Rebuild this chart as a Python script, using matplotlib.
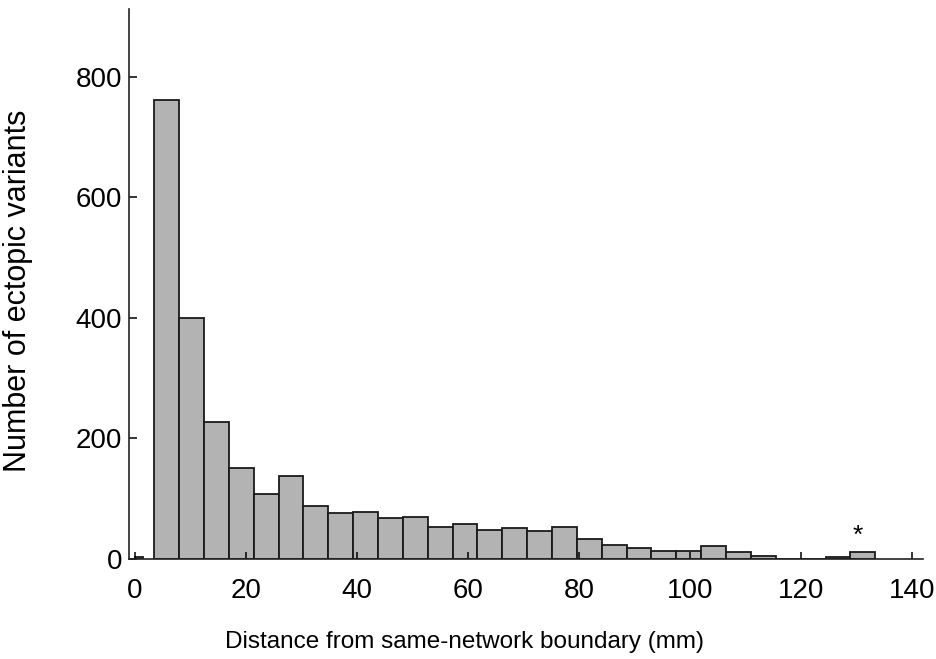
import numpy as np
import matplotlib
matplotlib.use("Agg")
import matplotlib.pyplot as plt

plt.rcParams['font.family'] = ['Liberation Sans', 'DejaVu Sans']

# histogram (distance in mm, counts per bin)
first_edge = 3.48
bin_width = 4.48
counts = [762, 399, 226, 151, 108, 137, 88, 75, 78, 67,
          69, 53, 58, 47, 50, 46, 52, 33, 22, 17,
          12, 12, 20, 10, 4, 0, 0, 2, 10]

# the sliver right at zero
near_zero_left = [0.0]
near_zero_width = [1.4]
near_zero_count = [2]

starred_bin = 28  # index of the bin marked with *

xticks = [0, 20, 40, 60, 80, 100, 120, 140]
yticks = [0, 200, 400, 600, 800]

fig = plt.figure(figsize=(9.37, 6.59), dpi=100)
ax = fig.add_axes([0.1377, 0.1525, 0.8473, 0.8338])

lefts = first_edge + bin_width * np.arange(len(counts))
ax.bar(lefts, counts, width=bin_width, align='edge',
       color='#b3b3b3', edgecolor='#1a1a1a', linewidth=1.3)
ax.bar(near_zero_left, near_zero_count, width=near_zero_width, align='edge',
       color='#b3b3b3', edgecolor='#1a1a1a', linewidth=1.3)

star_x = lefts[starred_bin] + bin_width * 0.3
ax.text(star_x, counts[starred_bin] + 28, '*', ha='center', va='center',
        fontsize=19)

ax.set_xlim(-1.08, 142.0)
ax.set_ylim(0, 913)
ax.set_xticks(xticks)
ax.set_yticks(yticks)

for side in ['top', 'right']:
    ax.spines[side].set_visible(False)
for side in ['left', 'bottom']:
    ax.spines[side].set_linewidth(1.2)
    ax.spines[side].set_color('#222222')

ax.tick_params(axis='x', direction='in', length=5, width=1.1,
               labelsize=20, pad=14)
ax.tick_params(axis='y', direction='in', length=6, width=1.1,
               labelsize=20, pad=5)

ax.set_xlabel('Distance from same-network boundary (mm)', fontsize=17.5)
ax.set_ylabel('Number of ectopic variants', fontsize=22)
ax.xaxis.set_label_coords(0.423, -0.132)
ax.yaxis.set_label_coords(-0.121, 0.487)

fig.savefig('out.png', dpi=100)
